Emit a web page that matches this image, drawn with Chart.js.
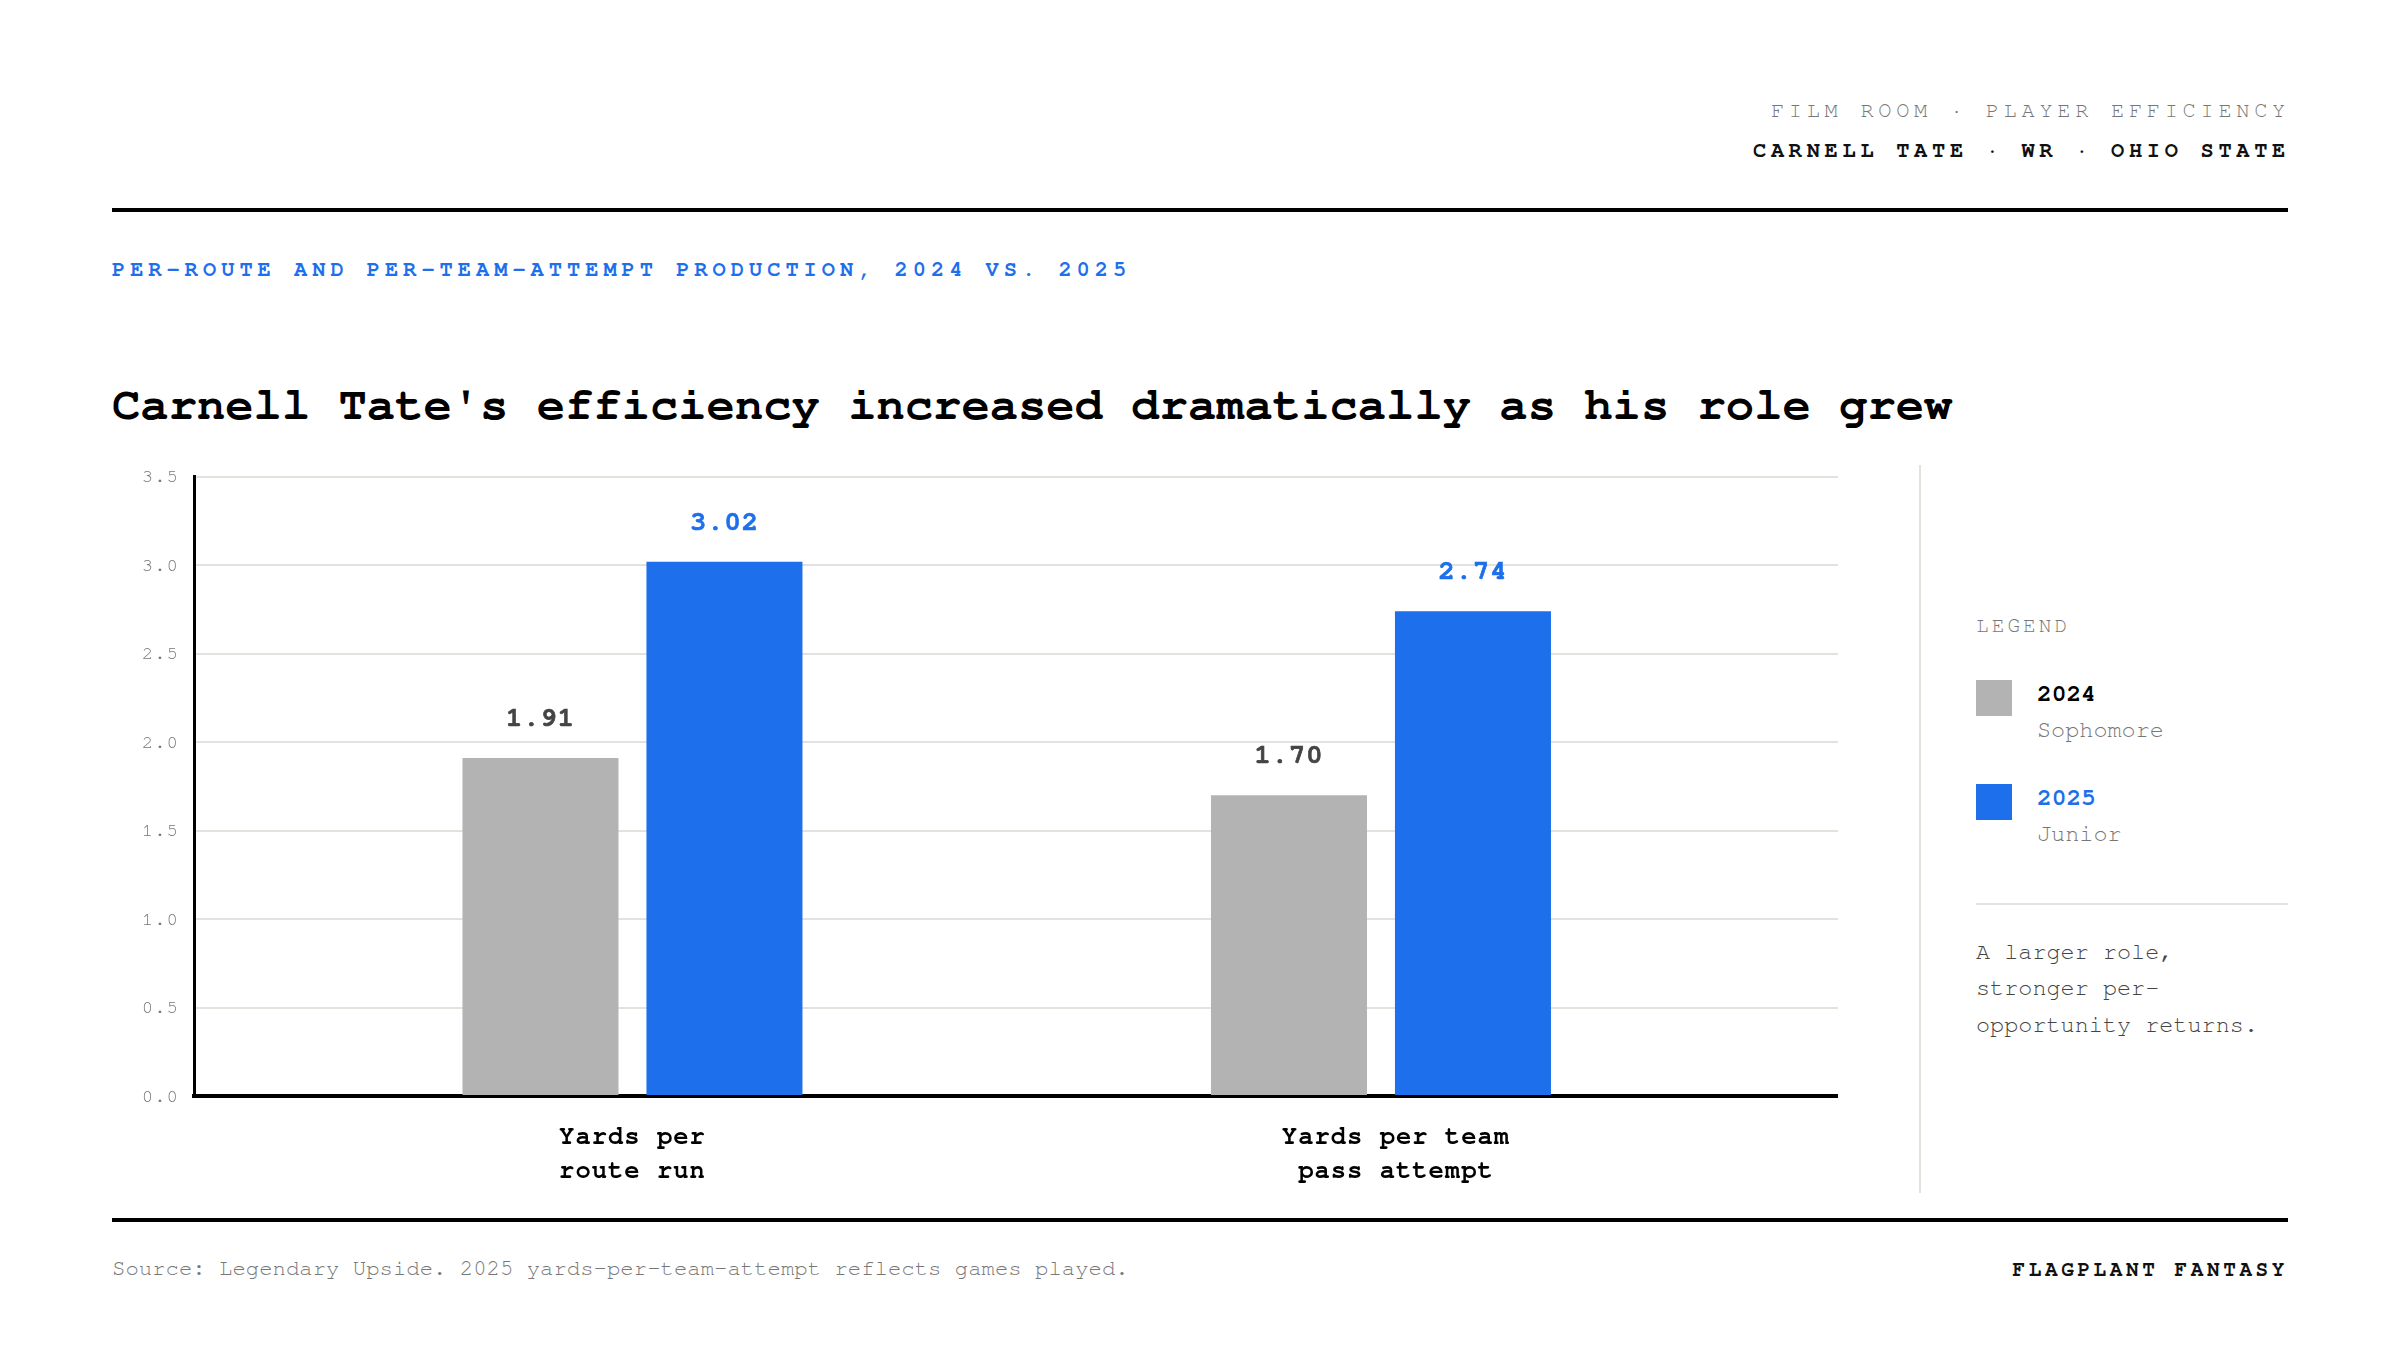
<!DOCTYPE html>
<html>
<head>
<meta charset="utf-8">
<title>Carnell Tate efficiency</title>
<script src="https://cdn.jsdelivr.net/npm/chart.js@4.4.0/dist/chart.umd.min.js"></script>
<style>
  html, body { margin: 0; padding: 0; background: #fff; }
  body {
    width: 2400px; height: 1350px; position: relative; overflow: hidden;
    font-family: 'Nimbus Mono PS', 'Nimbus Mono L', FreeMono, 'Courier New', Courier, 'Liberation Mono', monospace;
    color: #111;
  }
  .abs { position: absolute; line-height: 1; white-space: nowrap; }
  .kicker { right: 110px; top: 98.5px; font-size: 22px; letter-spacing: 4.7px; color: #777; }
  .byline { right: 110px; top: 138.5px; font-size: 22px; letter-spacing: 4.7px; font-weight: bold; color: #111; }
  .rule { position: absolute; left: 112px; width: 2176px; height: 4px; background: #000; }
  .eyebrow { left: 112px; top: 257.5px; font-size: 22px; letter-spacing: 5px; font-weight: bold; color: #1e6feb; }
  .title { left: 112px; top: 381px; font-size: 47.2px; font-weight: bold; color: #000; }
  #chart-wrap { position: absolute; left: 112px; top: 440px; width: 1726px; height: 760px; }
  .vsep { position: absolute; left: 1919px; top: 465px; width: 2px; height: 728px; background: #e3e3de; }
  .legend-head { left: 1976px; top: 614.5px; font-size: 21px; letter-spacing: 3.1px; color: #777; }
  .swatch { position: absolute; left: 1976px; width: 36px; height: 36px; }
  .leg-year { left: 2037px; font-size: 24.5px; font-weight: bold; }
  .leg-sub { left: 2037px; font-size: 23.5px; color: #777; }
  .hsep { position: absolute; left: 1976px; top: 903px; width: 312px; height: 2px; background: #e3e3de; }
  .note { position: absolute; left: 1976px; top: 933.5px; font-size: 23.5px; line-height: 36.5px; color: #444; }
  .source { left: 112px; top: 1257px; font-size: 22.3px; color: #777; }
  .brand { right: 112px; top: 1258.5px; font-size: 21px; letter-spacing: 3.6px; font-weight: bold; color: #111; }
</style>
</head>
<body>
  <div class="abs kicker">FILM ROOM · PLAYER EFFICIENCY</div>
  <div class="abs byline">CARNELL TATE · WR · OHIO STATE</div>
  <div class="rule" style="top:208px"></div>
  <div class="abs eyebrow">PER-ROUTE AND PER-TEAM-ATTEMPT PRODUCTION, 2024 VS. 2025</div>
  <div class="abs title">Carnell Tate's efficiency increased dramatically as his role grew</div>

  <div id="chart-wrap"><canvas id="chart"></canvas></div>

  <div class="vsep"></div>
  <div class="abs legend-head">LEGEND</div>
  <div id="legend"></div>
  <div class="hsep"></div>
  <div class="note">A larger role,<br>stronger per-<br>opportunity returns.</div>

  <div class="rule" style="top:1218px"></div>
  <div class="abs source">Source: Legendary Upside. 2025 yards-per-team-attempt reflects games played.</div>
  <div class="abs brand">FLAGPLANT FANTASY</div>

<script>
(function () {
  'use strict';

  // ── data ──────────────────────────────────────
  const CATEGORIES = [['Yards per', 'route run'], ['Yards per team', 'pass attempt']];
  const SEASONS = ['2024', '2025'];
  const SEASON_NOTES = ['Sophomore', 'Junior'];
  const VALUES_2024 = [1.91, 1.70];
  const VALUES_2025 = [3.02, 2.74];
  const Y_TICKS = [0, 0.5, 1.0, 1.5, 2.0, 2.5, 3.0, 3.5];

  // ── styles / positions ───────────────────────
  const BAR_COLORS = ['#b3b3b3', '#1e6feb'];
  const VALUE_COLORS = ['#444444', '#1e6feb'];
  const LEGEND_TEXT = ['#000000', '#1e6feb'];
  const LABEL_POS = [0, 1.02];   // where the category labels sit on the x scale
  const FONT = "'Nimbus Mono PS', 'Nimbus Mono L', FreeMono, 'Courier New', Courier, 'Liberation Mono', monospace";

  // legend (html)
  const legendEl = document.getElementById('legend');
  const legendY = [680, 784];
  SEASONS.forEach((s, i) => {
    const y = legendY[i];
    legendEl.insertAdjacentHTML('beforeend',
      '<div class="swatch" style="top:' + y + 'px;background:' + BAR_COLORS[i] + '"></div>' +
      '<div class="abs leg-year" style="top:' + (y + 2) + 'px;color:' + LEGEND_TEXT[i] + '">' + s + '</div>' +
      '<div class="abs leg-sub" style="top:' + (y + 39) + 'px">' + SEASON_NOTES[i] + '</div>');
  });

  // value labels above bars
  const valueLabels = {
    id: 'valueLabels',
    afterDatasetsDraw(chart) {
      const ctx = chart.ctx;
      ctx.save();
      ctx.font = '700 27px ' + FONT;
      ctx.textAlign = 'center';
      ctx.textBaseline = 'middle';
      ctx.lineWidth = 0.7;
      chart.data.datasets.forEach((ds, di) => {
        ctx.fillStyle = VALUE_COLORS[di];
        ctx.strokeStyle = VALUE_COLORS[di];
        chart.getDatasetMeta(di).data.forEach((bar, i) => {
          const txt = ds.data[i].y.toFixed(2);
          ctx.fillText(txt, bar.x, bar.y - 40);
          ctx.strokeText(txt, bar.x, bar.y - 40);
        });
      });
      ctx.restore();
    }
  };

  // canvas letter spacing
  const spacing = {
    id: 'spacing',
    beforeDraw(chart) { chart.ctx.letterSpacing = '1px'; }
  };

  const toPoints = (vals) => vals.map((v, i) => ({ x: i, y: v }));

  new Chart(document.getElementById('chart'), {
    type: 'bar',
    data: {
      datasets: [
        { label: SEASONS[0], data: toPoints(VALUES_2024), backgroundColor: BAR_COLORS[0] },
        { label: SEASONS[1], data: toPoints(VALUES_2025), backgroundColor: BAR_COLORS[1] }
      ]
    },
    options: {
      responsive: true,
      maintainAspectRatio: false,
      animation: false,
      categoryPercentage: 0.4916,
      barPercentage: 0.848,
      layout: { padding: { top: 36.7, left: 0, right: 0, bottom: 0 } },
      plugins: { legend: { display: false }, tooltip: { enabled: false } },
      scales: {
        x: {
          type: 'linear',
          offset: false,
          bounds: 'data',
          min: -0.5858,
          max: 1.6106,
          afterBuildTicks: (axis) => { axis.ticks = LABEL_POS.map(v => ({ value: v })); },
          afterFit: (axis) => { axis.height = 104; },
          grid: { display: false, offset: false, drawTicks: false },
          border: { display: true, color: '#000', width: 4 },
          ticks: {
            autoSkip: false, maxRotation: 0, padding: 23,
            color: '#000',
            font: { family: FONT, size: 25.5, weight: 'bold', lineHeight: 34 / 25.5 },
            callback: (v, i) => CATEGORIES[i]
          }
        },
        y: {
          min: 0,
          max: 3.5,
          afterBuildTicks: (axis) => { axis.ticks = Y_TICKS.map(v => ({ value: v })); },
          afterFit: (axis) => { axis.width = 82; },
          grid: { color: '#e3e3de', lineWidth: 2, drawTicks: false },
          border: { display: true, color: '#000', width: 3 },
          ticks: {
            padding: 15,
            color: '#777',
            font: { family: FONT, size: 19 },
            callback: (v) => v.toFixed(1)
          }
        }
      }
    },
    plugins: [spacing, valueLabels]
  });
})();
</script>
</body>
</html>
